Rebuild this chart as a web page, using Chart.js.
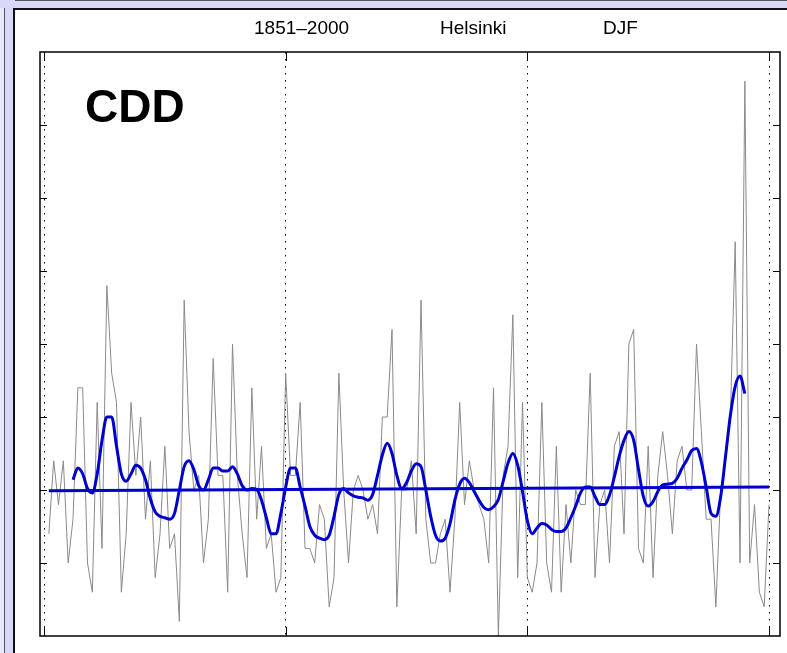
<!DOCTYPE html>
<html>
<head>
<meta charset="utf-8">
<script src="https://cdn.jsdelivr.net/npm/chart.js@4.4.1/dist/chart.umd.min.js"></script>
<style>
  html, body { margin: 0; padding: 0; background: #fff; }
  #wrap { position: relative; width: 787px; height: 653px; overflow: hidden; }
  #chart { position: absolute; left: 0; top: 0; }
  .fr { position: absolute; }
</style>
</head>
<body>
<div id="wrap">
  <canvas id="chart" width="787" height="653"></canvas>
  <!-- window frame round the figure -->
  <div class="fr" style="left:0;top:0;width:4px;height:653px;background:#e8e8fc"></div>
  <div class="fr" style="left:4px;top:0;width:1px;height:653px;background:#555"></div>
  <div class="fr" style="left:5px;top:0;width:8px;height:653px;background:#d8d8f8"></div>
  <div class="fr" style="left:13px;top:8px;width:2px;height:645px;background:#111"></div>
  <div class="fr" style="left:0;top:0;width:787px;height:8px;background:#d8d8f8"></div>
  <div class="fr" style="left:15px;top:0;width:772px;height:1px;background:#555"></div>
  <div class="fr" style="left:13px;top:8px;width:774px;height:2px;background:#111"></div>
</div>
<script>
// CDD anomalies (days), Helsinki DJF, one value per year from startYear
const startYear = 1851;
const cddAnom = [
  -3, 2, -1, 2, -5, -2, 7, 7, -5, -7,
  6, -4, 14, 8, 6, -7, -3, 6, 1, 5,
  -2, 2, -6, -3, 3, -4, -3, -9, 13, 4,
  0, 1, -5, -2, 9, 1, 1, -7, 10, 1,
  -3, -6, 7, -2, 3, -4, -3, -7, -6, 8,
  1, 1, 6, -4, -4, -5, -1, -2, -8, -6,
  8, 0, -5, 0, 1, 0, -2, -1, -3, 5,
  5, 11, -8, 0, 0, 2, -3, 13, -2, -5,
  -5, -3, -2, -7, -2, 6, -1, 2, 0, -1,
  -2, -5, 7, -10, 1, 3, 12, -6, 6, -6,
  -7, -5, 6, -5, -7, 3, -7, -1, -5, 0,
  -1, -1, 8, -6, -1, 0, -5, 3, 4, -3,
  10, 11, -4, -5, 3, -6, 1, 4, 1, -3,
  2, 3, 0, 0, 10, 4, -2, -2, -8, 0,
  2, 5, 17, -5, 28, -5, -1, -7, -8, -1
];

// smoothed curve, 1856-1995
const smoothStart = 1856;
const cddSmooth = [
  0.7, 1.5, 1.1, 0.1, -0.2, 1.1, 3.4, 5.0, 5.0, 3.0,
  1.1, 0.6, 1.1, 1.7, 1.5, 0.7, -0.6, -1.5, -1.8, -1.9,
  -2.0, -1.6, 0.0, 1.6, 2.0, 1.4, 0.3, 0.0, 0.7, 1.5,
  1.5, 1.3, 1.3, 1.6, 1.1, 0.3, 0.0, 0.1, 0.05, -0.7,
  -1.9, -3.0, -3.0, -1.6, 0.2, 1.5, 1.5, 0.2, -1.1, -2.5,
  -3.1, -3.3, -3.4, -3.1, -1.8, -0.3, 0.1, -0.2, -0.4, -0.5,
  -0.55, -0.7, -0.3, 1.0, 2.4, 3.2, 2.5, 1.0, 0.1, 0.5,
  1.3, 1.8, 1.6, 0.0, -1.8, -3.1, -3.5, -3.3, -2.3, -0.7,
  0.4, 0.8, 0.5, -0.1, -0.7, -1.2, -1.35, -1.15, -0.65, 0.6,
  1.85, 2.5, 1.7, -0.1, -2.1, -3.0, -2.6, -2.3, -2.4, -2.7,
  -2.85, -2.85, -2.6, -1.9, -1.1, -0.2, 0.2, 0.2, -0.45, -1.0,
  -1.0, -0.35, 0.9, 2.3, 3.4, 4.0, 3.4, 1.4, -0.45, -1.1,
  -0.8, -0.1, 0.35, 0.4, 0.45, 0.8, 1.5, 2.05, 2.7, 2.85,
  1.9, 0.2, -1.6, -1.8, -0.45, 2.3, 5.1, 7.1, 7.8, 6.6
];

// linear trend end points
const trendYears = [1851, 2000];
const trendVals = [-0.05, 0.2];

const xTicks = [1850, 1900, 1950, 2000];
const yTicks = [-5, 0, 5, 10, 15, 20, 25];

const toPoints = (first, vals) => vals.map((v, i) => ({ x: first + i, y: v }));

const frameAndText = {
    id: 'frameAndText',
    afterDatasetsDraw(chart) {
        const { ctx, chartArea: a, scales } = chart;
        ctx.save();
        ctx.strokeStyle = '#000';
        ctx.lineWidth = 1.5;
        ctx.strokeRect(a.left, a.top, a.right - a.left, a.bottom - a.top);
        ctx.lineWidth = 1;
        ctx.beginPath();
        yTicks.forEach((v) => {
            const py = Math.round(scales.y.getPixelForValue(v)) + 0.5;
            ctx.moveTo(a.left, py); ctx.lineTo(a.left + 7, py);
            ctx.moveTo(a.right, py); ctx.lineTo(a.right - 7, py);
        });
        xTicks.forEach((v) => {
            const px = Math.round(scales.x.getPixelForValue(v)) + 0.5;
            ctx.moveTo(px, a.bottom); ctx.lineTo(px, a.bottom - 9);
            ctx.moveTo(px, a.top); ctx.lineTo(px, a.top + 9);
        });
        ctx.stroke();
        ctx.restore();
    },
    afterDraw(chart) {
        const ctx = chart.ctx;
        ctx.save();
        ctx.fillStyle = '#000';
        ctx.textBaseline = 'alphabetic';
        ctx.font = '19px "Liberation Sans", Arial, sans-serif';
        ctx.fillText('1851\u20132000', 254, 34);
        ctx.fillText('Helsinki', 440, 34);
        ctx.fillText('DJF', 603, 34);
        ctx.font = 'bold 46px "Liberation Sans", Arial, sans-serif';
        ctx.fillText('CDD', 85, 122);
        ctx.restore();
    }
};

new Chart(document.getElementById('chart'), {
    type: 'line',
    data: {
        datasets: [
            {
                label: 'CDD',
                data: toPoints(startYear, cddAnom),
                borderColor: '#8a8a8a',
                borderWidth: 1,
                pointRadius: 0,
                tension: 0,
                order: 3
            },
            {
                label: 'trend',
                data: trendYears.map((x, i) => ({ x, y: trendVals[i] })),
                borderColor: '#0000cc',
                borderWidth: 3,
                pointRadius: 0,
                order: 2
            },
            {
                label: 'smooth',
                data: toPoints(smoothStart, cddSmooth),
                borderColor: '#0000cc',
                borderWidth: 3,
                pointRadius: 0,
                cubicInterpolationMode: 'monotone',
                tension: 0.4,
                borderJoinStyle: 'round',
                order: 1
            }
        ]
    },
    options: {
        responsive: false,
        devicePixelRatio: 1,
        animation: false,
        events: [],
        layout: { padding: { left: 40, top: 52, right: 7, bottom: 17 } },
        plugins: { legend: { display: false }, tooltip: { enabled: false } },
        scales: {
            x: {
                type: 'linear',
                min: 1849.17,
                max: 2002.27,
                afterBuildTicks: (scale) => { scale.ticks = xTicks.map((v) => ({ value: v })); },
                ticks: { display: false },
                grid: { color: '#000', lineWidth: 1, drawTicks: false },
                border: { display: false, dash: [1.5, 5.5] }
            },
            y: {
                min: -10,
                max: 30,
                afterBuildTicks: (scale) => { scale.ticks = yTicks.map((v) => ({ value: v })); },
                ticks: { display: false },
                grid: { display: false, drawTicks: false },
                border: { display: false }
            }
        }
    },
    plugins: [frameAndText]
});
</script>
</body>
</html>
